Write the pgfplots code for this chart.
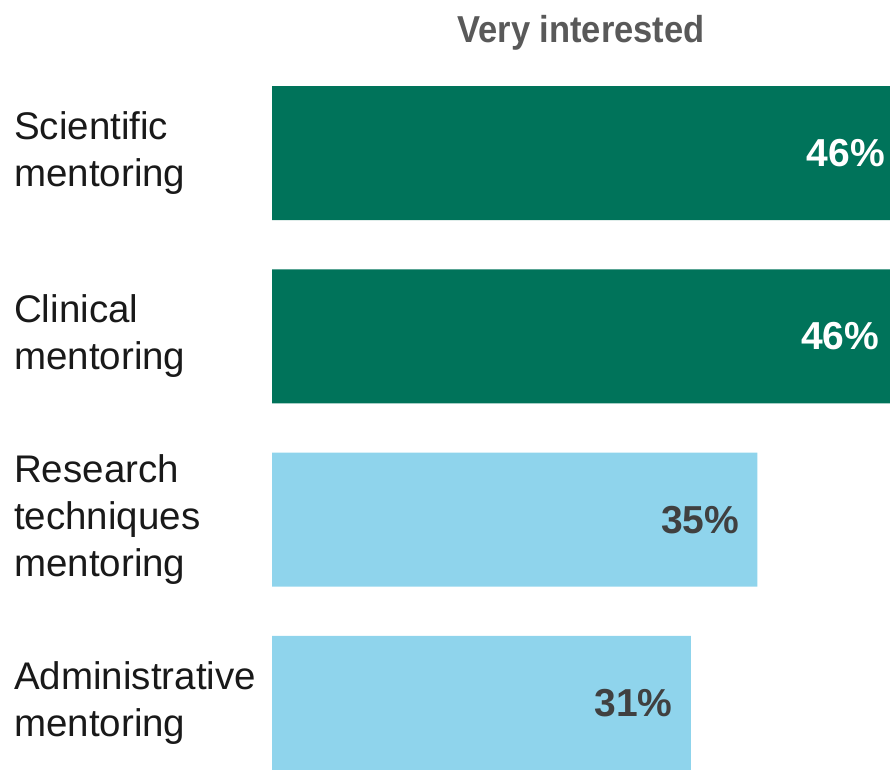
\documentclass[border=0pt]{standalone}
\usepackage{fontspec}
\setmainfont{Liberation Sans}
\usepackage{graphicx}
\usepackage{pgfplots}
\pgfplotsset{compat=1.18}

\definecolor{darkgreen}{HTML}{00735A}
\definecolor{lightblue}{HTML}{8FD4EC}
\definecolor{labelgray}{HTML}{404040}
\definecolor{titlegray}{HTML}{595959}

\begin{document}
\begin{tikzpicture}
% page = 890 x 770; the long green bars run past the right edge
\useasboundingbox (0,0) rectangle (890pt,770pt);
\begin{axis}[
    at={(272pt,0pt)}, anchor=south west,
    scale only axis,
    width=618pt, height=684pt,
    clip=false,
    xbar, bar width=134pt, bar shift=0pt,
    xmin=0, xmax=45.45,
    ymin=-0.366, ymax=3.366,
    y dir=reverse,
    axis line style={draw=none},
    xtick=\empty,
    ytick={0,1,2,3},
    yticklabels={{Scientific\\mentoring},{Clinical\\mentoring},{Research\\techniques\\mentoring},{Administrative\\mentoring}},
    yticklabel style={anchor=west, align=left, xshift=-258pt, inner sep=0pt,
        font=\fontsize{38.5}{47}\selectfont, text=black!90},
    major tick length=0pt,
    point meta=explicit symbolic,
    nodes near coords={\pgfplotspointmeta\%},
    nodes near coords style={anchor=east, xshift=-18pt, inner sep=0pt,
        font=\fontsize{39}{44}\selectfont\bfseries},
    title={\scalebox{0.92}[1]{\fontsize{37.5}{40}\selectfont\bfseries Very interested}},
    title style={text=titlegray, yshift=26pt},
]
\addplot[fill=darkgreen, draw=none, nodes near coords style={text=white}]
    coordinates {(46.4,0) [46] (46.0,1) [46]};
\addplot[fill=lightblue, draw=none, nodes near coords style={text=labelgray}]
    coordinates {(35.7,2) [35] (30.8,3) [31]};
\end{axis}
\end{tikzpicture}
\end{document}
